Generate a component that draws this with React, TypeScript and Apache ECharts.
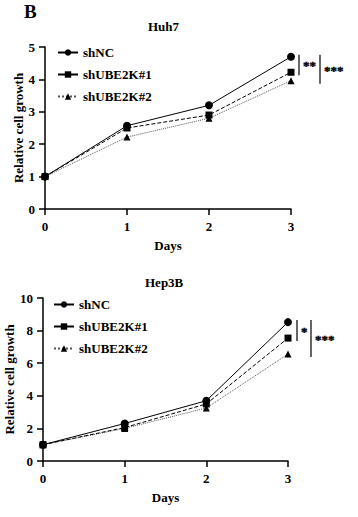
import React, { useEffect, useRef } from "react";
import * as echarts from "echarts";

const days = [0, 1, 2, 3];
const seriesNames = ["shNC", "shUBE2K#1", "shUBE2K#2"];
const huh7_shNC = [1, 2.57, 3.2, 4.7];
const huh7_sh1 = [1, 2.5, 2.9, 4.22];
const huh7_sh2 = [1, 2.22, 2.8, 3.96];
const hep_shNC = [1, 2.3, 3.7, 8.52];
const hep_sh1 = [1, 2.05, 3.5, 7.54];
const hep_sh2 = [1, 2.0, 3.25, 6.56];
const huh7Stars = ["**", "***"];
const hepStars = ["*", "***"];

const FONT = "Liberation Serif";
const symbols = ["circle", "rect", "triangle"];
const lineTypes: any[] = ["solid", "dashed", "dotted"];

export default function App() {
  const ref = useRef<HTMLDivElement>(null);
  useEffect(() => {
    const chart = echarts.init(ref.current!, null, { renderer: "svg" });
    const txt = { fontFamily: FONT, fontWeight: "bold" as const, color: "#000", fontSize: 13 };
    const mkX = (gi: number) => ({
      type: "value", gridIndex: gi, min: 0, max: 3, interval: 1,
      name: "Days", nameLocation: "middle", nameGap: 30, nameMoveOverlap: false,
      nameTextStyle: { ...txt },
      axisLine: { show: true, lineStyle: { color: "#000", width: 1.5 } },
      axisTick: { show: true, length: 6, lineStyle: { color: "#000", width: 1.5 } },
      axisLabel: { ...txt, margin: 11 },
      splitLine: { show: false },
    });
    const mkY = (gi: number, max: number, interval: number, gap: number) => ({
      type: "value", gridIndex: gi, min: 0, max, interval,
      name: "Relative cell growth", nameLocation: "middle", nameGap: gap, nameMoveOverlap: false,
      nameTextStyle: { ...txt },
      axisLine: { show: true, lineStyle: { color: "#000", width: 1.5 } },
      axisTick: { show: true, length: 6, lineStyle: { color: "#000", width: 1.5 } },
      axisLabel: { ...txt, margin: 10 },
      splitLine: { show: false },
    });
    const data = [[huh7_shNC, huh7_sh1, huh7_sh2], [hep_shNC, hep_sh1, hep_sh2]];
    const series: any[] = [];
    data.forEach((grp, gi) => {
      grp.forEach((vals, si) => {
        series.push({
          type: "line", name: seriesNames[si], xAxisIndex: gi, yAxisIndex: gi,
          data: vals.map((v, i) => [days[i], v]),
          symbol: symbols[si], symbolSize: si === 0 ? 8 : 7,
          itemStyle: { color: "#000" },
          lineStyle: { color: si === 2 ? "#555" : "#000", width: 1, type: lineTypes[si] },
          z: 5 - si,
        });
      });
    });
    const legendCommon = {
      orient: "vertical", itemWidth: 20, itemHeight: 8, itemGap: 9, padding: 0,
      textStyle: { ...txt }, data: seriesNames,
    };
    chart.setOption({
      animation: false,
      grid: [
        { left: 45, top: 47, width: 246, height: 162, outerBoundsMode: "none", containLabel: false },
        { left: 43, top: 298, width: 245, height: 163, outerBoundsMode: "none", containLabel: false },
      ],
      xAxis: [mkX(0), mkX(1)],
      yAxis: [mkY(0, 5, 1, 20), mkY(1, 10, 2, 27)],
      legend: [
        { ...legendCommon, left: 57, top: 46 },
        { ...legendCommon, left: 53, top: 298 },
      ],
      title: [
        { text: "Huh7", left: 148, top: 20, padding: 0, textStyle: { ...txt } },
        { text: "Hep3B", left: 145, top: 276, padding: 0, textStyle: { ...txt } },
      ],
      series,
    });
    const graphic: any[] = [
      {
        type: "text", x: 24, y: 2,
        style: { text: "B", fill: "#000", fontFamily: FONT, fontWeight: "bold", fontSize: 19, verticalAlign: "top", align: "left" },
      },
    ];
    const addBrackets = (gi: number, grp: number[][], stars: string[], offs: number[]) => {
      const top = chart.convertToPixel({ gridIndex: gi } as any, [3, grp[0][3]]) as number[];
      [1, 2].forEach((k, j) => {
        const bot = chart.convertToPixel({ gridIndex: gi } as any, [3, grp[k][3]]) as number[];
        const x = top[0] + offs[j];
        const y1 = top[1] - 2;
        const y2 = bot[1] + 3;
        graphic.push({ type: "line", shape: { x1: x, y1, x2: x, y2 }, style: { stroke: "#000", lineWidth: 1.2 } });
        graphic.push({
          type: "text", x: x + 4, y: (y1 + y2) / 2 + 1,
          style: {
            text: stars[j], fill: "#000", stroke: "#000", lineWidth: 0.4,
            fontFamily: FONT, fontWeight: "bold", fontSize: 13,
            verticalAlign: "middle", align: "left",
          },
        });
      });
    };
    addBrackets(0, data[0], huh7Stars, [8, 29]);
    addBrackets(1, data[1], hepStars, [9, 23]);
    chart.setOption({ graphic });
    return () => chart.dispose();
  }, []);
  return <div ref={ref} style={{ position: "fixed", left: 0, top: 0, width: 358, height: 517, background: "#fff" }} />;
}
